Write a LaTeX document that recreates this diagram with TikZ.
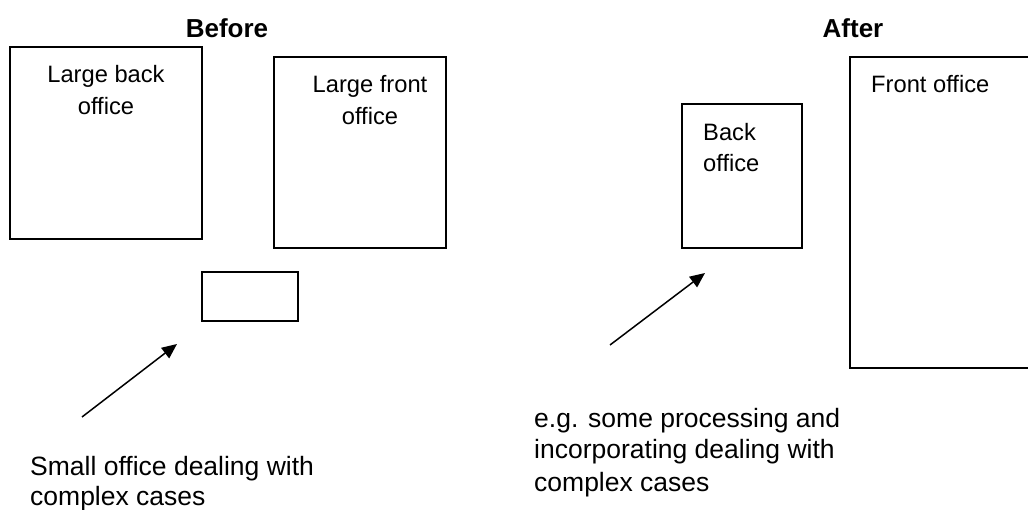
\documentclass[tikz,border=0pt]{standalone}
\usepackage{fontspec}
\setmainfont{Liberation Sans}
\usetikzlibrary{arrows.meta}

% stacked lines whose baseline is that of the first line
\newcommand{\textstack}[2]{\begin{tabular}[t]{@{}#1@{}}#2\end{tabular}}

\tikzset{
  office/.style={draw=black, line width=1.6pt, inner sep=0pt, fill=none},
  title/.style={inner sep=0pt, anchor=base, font=\fontsize{26}{31}\selectfont\bfseries},
  boxtext/.style={inner sep=0pt, font=\fontsize{23.7}{32}\selectfont},
  note/.style={inner sep=0pt, anchor=base west, font=\fontsize{26.5}{32}\selectfont},
  pointer/.style={line width=1.5pt, -{Triangle[length=15pt, width=13pt]}}
}

\begin{document}
\begin{tikzpicture}[x=1pt, y=-1pt]
  \useasboundingbox (0,0) rectangle (1028,510);
  \clip (0,0) rectangle (1028,510);
  \fill[white] (0,0) rectangle (1028,510);

  % ---- Before ----
  \node[title] (before) at (227,38) {Before};

  \node[office, minimum width=192pt, minimum height=192pt] (bigback) at (106,143) {};
  \node[boxtext, anchor=base] (bigbacktxt) at (106,82.5) {\textstack{c}{Large back\\office}};

  \node[office, minimum width=172pt, minimum height=191pt] (bigfront) at (360,152.5) {};
  \node[boxtext, anchor=base] (bigfronttxt) at (370,92.5) {\textstack{c}{Large front\\office}};

  \node[office, minimum width=96pt, minimum height=49pt] (small) at (250,296.5) {};

  \coordinate (smalltail) at (82,417);
  \coordinate (smalltip) at (177,344);
  \draw[pointer] (smalltail) -- (smalltip);

  \node[note, font=\fontsize{26.5}{30}\selectfont] (smallnote) at (30,475)
    {\textstack{l}{Small office dealing with\\complex cases}};

  % ---- After ----
  \node[title] (after) at (853,38) {After};

  \node[office, minimum width=120pt, minimum height=144pt] (back) at (742,176) {};
  \node[boxtext, anchor=base west, font=\fontsize{23.7}{31.5}\selectfont] (backtxt) at (703,140.5)
    {\textstack{l}{Back\\office}};

  \node[office, minimum width=190pt, minimum height=311pt] (front) at (945,212.5) {};
  \node[boxtext, anchor=base west] (fronttxt) at (871,92.5) {Front office};

  \coordinate (backtail) at (610,345);
  \coordinate (backtip) at (705,273);
  \draw[pointer] (backtail) -- (backtip);

  \node[note] (afternote) at (534,427)
    {\textstack{l}{e.g. some processing and\\incorporating dealing with\\complex cases}};
\end{tikzpicture}
\end{document}
